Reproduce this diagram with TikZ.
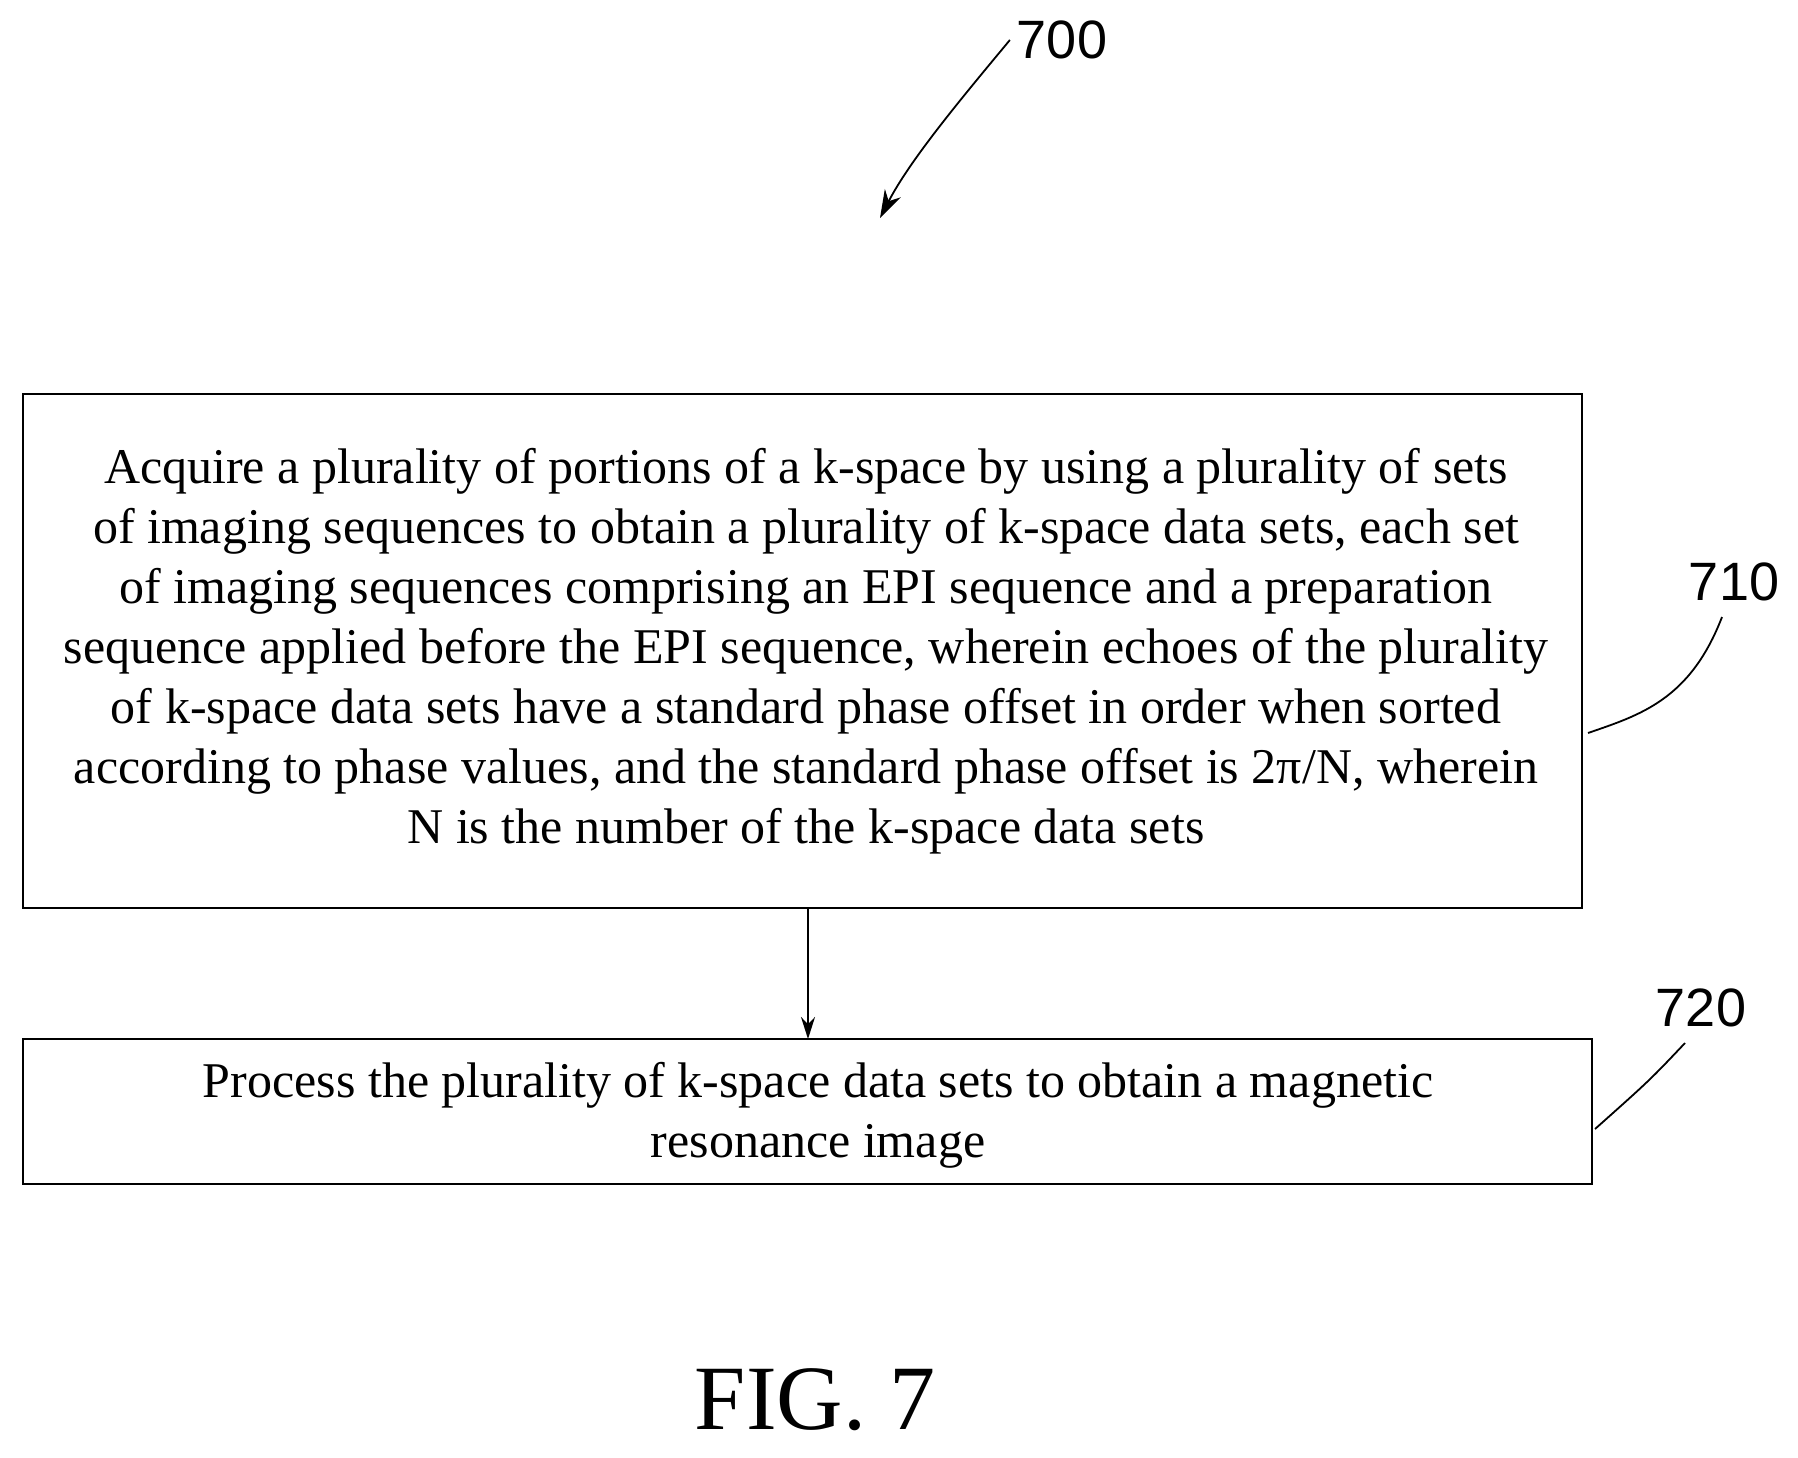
\documentclass[tikz,border=0pt]{standalone}
\usepackage{fontspec}
\setmainfont{Liberation Serif}
\newfontfamily\labelfont{Liberation Sans}
\usetikzlibrary{arrows.meta}
\begin{document}
\begin{tikzpicture}[x=0.5pt,y=-0.5pt,
  stepbox/.style = {draw, line width=1pt, align=center,
    font=\fontsize{25}{30}\selectfont},
  reflabel/.style = {font=\labelfont\fontsize{27}{30}\selectfont},
  leader/.style = {line width=0.9pt}]
  \useasboundingbox (0,0) rectangle (1798,1457);
  \draw[stepbox] (23,394) rectangle (1582,908);
  \node[stepbox, draw=none] (s710) at (806,651)
    {Acquire a plurality of portions of a k-space by using a plurality of sets\\
     of imaging sequences to obtain a plurality of k-space data sets, each set\\
     of imaging sequences comprising an EPI sequence and a preparation\\
     sequence applied before the EPI sequence, wherein echoes of the plurality\\
     of k-space data sets have a standard phase offset in order when sorted\\
     according to phase values, and the standard phase offset is 2π/N, wherein\\
     N is the number of the k-space data sets};
  \draw[stepbox] (23,1039) rectangle (1592,1184);
  \node[stepbox, draw=none] (s720) at (818,1115)
    {Process the plurality of k-space data sets to obtain a magnetic\\
     resonance image};
  \coordinate (b1) at (808,908);
  \coordinate (b2) at (808,1039);
  \draw[-{Stealth[length=11pt,width=7pt]}, line width=1pt] (b1) -- (b2);
  % reference numerals
  \node[reflabel] (n700) at (1062,40) {700};
  \node[reflabel] (n710) at (1734,582) {710};
  \node[reflabel] (n720) at (1701,1008) {720};
  \coordinate (e700) at (880,218);
  \coordinate (e710) at (1588,733);
  \coordinate (e720) at (1595,1129);
  \draw[leader, -{Stealth[length=14pt,width=9pt]}] (n700.west) .. controls (960,100) and (910,160) .. (e700);
  \draw[leader] (1722,617) .. controls (1690,700) and (1640,715) .. (e710);
  \draw[leader] (1685,1043) .. controls (1650,1080) .. (e720);
  \node[font=\fontsize{46}{50}\selectfont] (fig) at (815,1400) {FIG. 7};
\end{tikzpicture}
\end{document}
